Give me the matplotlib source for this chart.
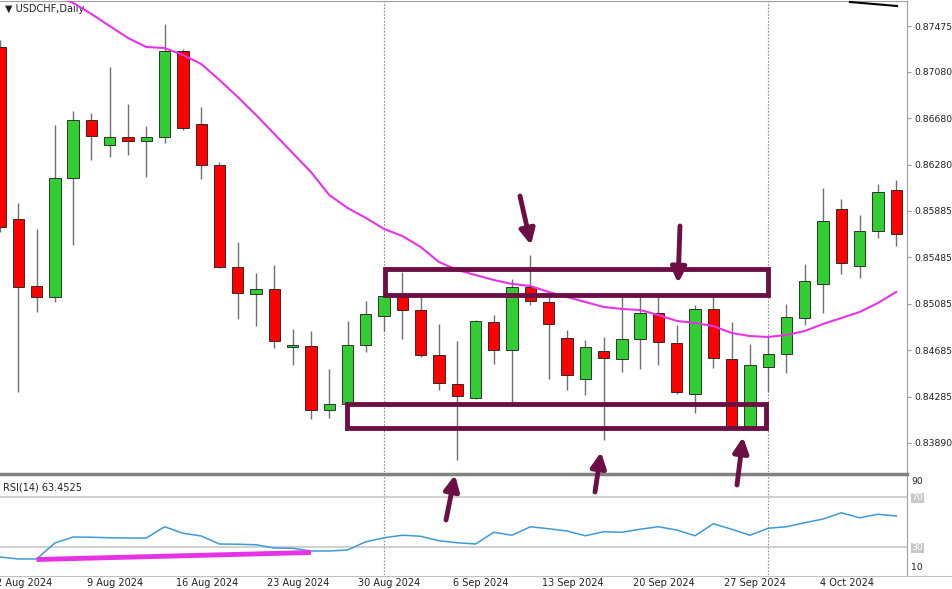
import matplotlib
matplotlib.use("Agg")
import matplotlib.pyplot as plt
import numpy as np

# ---------------- data ----------------
opens  = [0.87295,0.85816,0.85239,0.85145,0.86168,0.86667,0.86452,0.86521,0.86486,0.86521,
          0.87260,0.86633,0.86280,0.85403,0.85171,0.85214,0.84715,0.84723,0.84173,0.84225,
          0.84732,0.84981,0.85153,0.85033,0.84646,0.84397,0.84276,0.84930,0.84689,0.85231,
          0.85102,0.84792,0.84439,0.84680,0.84611,0.84783,0.85007,0.84749,0.84311,0.85042,
          0.84611,0.84035,0.84543,0.84655,0.84964,0.85257,0.85902,0.85411,0.85713,0.86065]
highs  = [0.87355,0.85953,0.85729,0.86624,0.86744,0.86727,0.87123,0.86805,0.86615,0.87493,
          0.87278,0.86779,0.86306,0.85618,0.85351,0.85420,0.84870,0.84852,0.84526,0.84939,
          0.85110,0.85170,0.85360,0.85145,0.84913,0.84766,0.84947,0.84990,0.85300,0.85506,
          0.85145,0.84861,0.84775,0.84801,0.85145,0.85145,0.85145,0.84904,0.85076,0.85145,
          0.84930,0.84741,0.84818,0.85085,0.85429,0.86082,0.85988,0.85850,0.86116,0.86151]
lows   = [0.85700,0.84328,0.85016,0.85102,0.85592,0.86323,0.86349,0.86366,0.86177,0.86469,
          0.86581,0.86160,0.85394,0.84956,0.84895,0.84706,0.84560,0.84095,0.84104,0.84208,
          0.84672,0.84852,0.84784,0.84629,0.84345,0.83743,0.84268,0.84569,0.84242,0.85076,
          0.84439,0.84345,0.84302,0.83915,0.84500,0.84525,0.84560,0.84311,0.84147,0.84534,
          0.84027,0.84027,0.84328,0.84491,0.84904,0.85007,0.85343,0.85308,0.85652,0.85583]
closes = [0.85747,0.85231,0.85145,0.86168,0.86667,0.86529,0.86521,0.86486,0.86521,0.87260,
          0.86598,0.86280,0.85403,0.85179,0.85214,0.84766,0.84732,0.84173,0.84225,0.84732,
          0.84999,0.85153,0.85033,0.84646,0.84405,0.84293,0.84939,0.84689,0.85231,0.85110,
          0.84913,0.84474,0.84715,0.84620,0.84783,0.85007,0.84758,0.84328,0.85042,0.84620,
          0.84035,0.84560,0.84655,0.84973,0.85283,0.85799,0.85437,0.85713,0.86047,0.85686]
ma_start = 3
ma_vals = [0.87742,0.87673,0.87579,0.87475,0.87372,0.87295,0.87286,0.87226,0.87149,0.87011,
           0.86865,0.86710,0.86547,0.86383,0.86220,0.86022,0.85911,0.85825,0.85730,0.85669,
           0.85575,0.85446,0.85377,0.85334,0.85291,0.85257,0.85239,0.85188,0.85145,0.85102,
           0.85059,0.85042,0.85033,0.84990,0.84939,0.84921,0.84895,0.84835,0.84809,0.84801,
           0.84818,0.84852,0.84913,0.84964,0.85016,0.85093,0.85188]
rsi = [22,20.4,20.4,33.2,38,37.8,37.4,37.2,37.2,46.2,41,38.8,32.4,32.2,31.8,29.2,29,26.8,26.8,27.6,
       34.2,37.4,39.4,38.6,35,33.4,32.4,41.8,39.4,46.2,44.6,42.8,39,42.2,41.8,44.2,46.2,43.6,39,48.6,
       44.2,39.4,45,46.2,49.4,52.4,57.4,53.4,56.2,54.8]
price_ticks = [0.87475,0.87080,0.86680,0.86280,0.85885,0.85485,0.85085,0.84685,0.84285,0.83890]
date_idx = [1,6,11,16,21,26,31,36,41,46]
date_labels = ["2 Aug 2024","9 Aug 2024","16 Aug 2024","23 Aug 2024","30 Aug 2024",
               "6 Sep 2024","13 Sep 2024","20 Sep 2024","27 Sep 2024","4 Oct 2024"]
sep_idx = [21,42]
box_upper = (21.05, 42.0, 0.85162, 0.85386)
box_lower = (18.97, 41.9, 0.84018, 0.84225)
rsi_trend = ([2, 17], [20.0, 25.6])
# arrows in figure pixels: (x_tail, y_tail, x_head, y_head)
arrows_px = [(520,196,531,245),(680,226,678,283),(446,520,455,475),(595,492,601,452),(737,485,743,437)]

W, H = 953, 589
fig = plt.figure(figsize=(W/100, H/100), dpi=100)
fig.patch.set_facecolor("white")
PX = 18.29  # pixels per bar
AXR = 907
def rect(x0, y0, x1, y1):
    return [x0/W, 1-y1/H, (x1-x0)/W, (y1-y0)/H]

ax = fig.add_axes(rect(0, 1, AXR, 472))
ax2 = fig.add_axes(rect(0, 475, AXR, 575))
xl = (0.0, AXR/PX)
for a in (ax, ax2):
    a.set_xlim(*xl)
    for s in a.spines.values():
        s.set_color("#a0a0a0")
    a.spines['left'].set_visible(False)
    a.spines['bottom'].set_visible(False)
ax.set_ylim(0.87699-0.000086*472, 0.87699-0.000086*1)

green, red = "#32cd32", "#ff0000"
for i,(o,h,l,c) in enumerate(zip(opens,highs,lows,closes)):
    col = green if c >= o else red
    ax.vlines(i, l, h, color="#707070", lw=1, zorder=2)
    ax.bar(i, abs(c-o) if abs(c-o) > 0 else 0.00002, bottom=min(o,c), width=0.62,
           color=col, edgecolor="#1a1a1a", linewidth=0.6, zorder=3)
ax.plot(np.arange(ma_start, ma_start+len(ma_vals)), ma_vals, color="#e633e6", lw=1.5, zorder=4)

bc = "#6b0f45"
for (x0,x1,y0,y1) in (box_upper, box_lower):
    ax.add_patch(plt.Rectangle((x0,y0), x1-x0, y1-y0, fill=False, ec=bc, lw=3.5, zorder=5))

for a in (ax, ax2):
    for s in sep_idx:
        a.axvline(s, color="#909090", ls=(0,(1.5,1.5)), lw=0.8, zorder=1)

ax.yaxis.tick_right()
ax.set_yticks(price_ticks)
ax.set_yticklabels([f"{p:.5f}" for p in price_ticks], fontsize=6.7, color="#222222")
ax.tick_params(axis='y', length=3, color="#a0a0a0", pad=2)
ax.set_xticks([])
ax.text(5/ AXR, 1-8/471, "▼ USDCHF,Daily", transform=ax.transAxes, fontsize=7, va="center", color="#222222")

# RSI panel
ax2.set_ylim(30+(547-575)/1.25, 30+(547-475)/1.25)
ax2.plot(range(len(rsi)), rsi, color="#3d9ad8", lw=1.1, zorder=3)
ax2.axhline(70, color="#c8c8c8", lw=1.2)
ax2.axhline(30, color="#c8c8c8", lw=1.2)
ax2.plot(*rsi_trend, color="#e633e6", lw=3.5, solid_capstyle="butt", zorder=4)
ax2.yaxis.tick_right()
ax2.set_yticks([83.6, 70, 30, 14])
ax2.set_yticklabels(["90","70","30","10"], fontsize=6.7, color="#222222")
for lab in ax2.get_yticklabels()[1:3]:
    lab.set_color("white"); lab.set_bbox(dict(fc="#c8c8c8", ec="none", pad=0.5))
ax2.tick_params(axis='y', length=0, pad=3)
ax2.set_xticks([d+0.3 for d in date_idx])
ax2.set_xticklabels(date_labels, fontsize=7, color="#222222")
ax2.tick_params(axis='x', length=0, pad=2)
ax2.text(3/AXR, 0.93, "RSI(14) 63.4525", transform=ax2.transAxes, fontsize=7, va="top", color="#222222")

# separators / extra marks via overlay
ov = fig.add_axes([0,0,1,1]); ov.set_xlim(0,W); ov.set_ylim(H,0); ov.axis("off")
ov.plot([0,AXR],[473.5,473.5], color="#808080", lw=2.5)
ov.plot([0,W],[576,576], color="#c0c0c0", lw=0.8)
ov.plot([850,897],[2,6], color="black", lw=1.5)
for (x0,y0,x1,y1) in arrows_px:
    ov.annotate("", xy=(x1,y1), xytext=(x0,y0),
                arrowprops=dict(arrowstyle="-|>,head_width=0.45,head_length=0.9", lw=3.5, color=bc, shrinkA=0, shrinkB=0))
fig.savefig("out.png", dpi=100)
